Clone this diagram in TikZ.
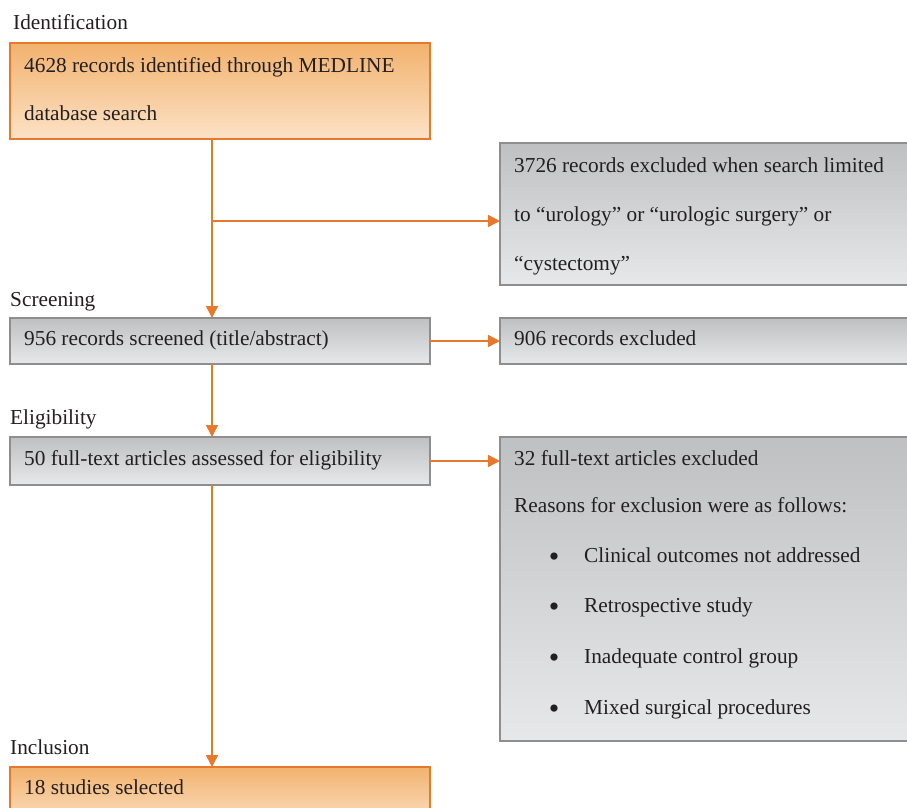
\documentclass[tikz,border=0pt]{standalone}
\usepackage{fontspec}
\setmainfont{Liberation Serif}
\usetikzlibrary{arrows.meta}
\definecolor{oborder}{HTML}{E8782A}
\definecolor{otop}{HTML}{F2B26E}
\definecolor{obot}{HTML}{FCE2C6}
\definecolor{gborder}{HTML}{8E8E8E}
\definecolor{gtop}{HTML}{BFC0C2}
\definecolor{gbot}{HTML}{E7E8EA}
\definecolor{txt}{HTML}{231F20}
\tikzset{
  box/.style={draw, line width=1.2pt, inner sep=0pt, outer sep=0pt, anchor=north west},
  obox/.style={box, draw=oborder, top color=otop, bottom color=obot},
  gbox/.style={box, draw=gborder, top color=gtop, bottom color=gbot},
  tx/.style={anchor=base west, inner sep=0pt, text=txt, font=\fontsize{21.3}{25}\selectfont},
  bul/.style={anchor=base, inner sep=0pt, text=txt, font=\fontsize{30}{30}\selectfont},
  arr/.style={draw=oborder, line width=1.4pt, -{Triangle[length=12pt,width=12pt]}},
  ln/.style={draw=oborder, line width=1.4pt}
}
\begin{document}
\begin{tikzpicture}[x=1pt,y=-1pt]
\useasboundingbox (0,0) rectangle (907,807);
% boxes
\node[obox, minimum width=420pt, minimum height=96pt] (b1) at (10,43) {};
\node[gbox, minimum width=420pt, minimum height=142pt] (b2) at (500,143) {};
\node[gbox, minimum width=420pt, minimum height=46pt] (b3) at (10,318) {};
\node[gbox, minimum width=420pt, minimum height=46pt] (b4) at (500,318) {};
\node[gbox, minimum width=420pt, minimum height=48pt] (b5) at (10,437) {};
\node[gbox, minimum width=420pt, minimum height=304pt] (b6) at (500,437) {};
\node[obox, minimum width=420pt, minimum height=60pt] (b7) at (10,767) {};
% stage labels
\node[tx] (l1) at (13,29) {Identification};
\node[tx] (l2) at (10,306) {Screening};
\node[tx] (l3) at (10,424) {Eligibility};
\node[tx] (l4) at (10,754) {Inclusion};
% texts
\node[tx] (t1a) at (24,72) {4628 records identified through MEDLINE};
\node[tx] (t1b) at (24,120) {database search};
\node[tx] (t2a) at (514,172) {3726 records excluded when search limited};
\node[tx] (t2b) at (514,221) {to “urology” or “urologic surgery” or};
\node[tx] (t2c) at (514,270) {“cystectomy”};
\node[tx] (t3) at (24,345) {956 records screened (title/abstract)};
\node[tx] (t4) at (514,345) {906 records excluded};
\node[tx] (t5) at (24,465) {50 full-text articles assessed for eligibility};
\node[tx] (t6a) at (514,465) {32 full-text articles excluded};
\node[tx] (t6b) at (514,512) {Reasons for exclusion were as follows:};
\node[bul] (u1) at (554,566) {•};
\node[tx] (r1) at (584,562) {Clinical outcomes not addressed};
\node[bul] (u2) at (554,616) {•};
\node[tx] (r2) at (584,612) {Retrospective study};
\node[bul] (u3) at (554,667) {•};
\node[tx] (r3) at (584,663) {Inadequate control group};
\node[bul] (u4) at (554,718) {•};
\node[tx] (r4) at (584,714) {Mixed surgical procedures};
\node[tx] (t7) at (24,794) {18 studies selected};
% connectors
\coordinate (j) at (212,221);
\draw[ln] (b1.south -| j) -- (j);
\draw[arr] (j) -- (j -| b2.west);
\draw[arr] (j) -- (j |- b3.north);
\draw[arr] (b3.east) -- (b4.west);
\draw[arr] (b3.south -| j) -- (b5.north -| j);
\draw[arr] (b5.east) -- (b5.east -| b6.west);
\draw[arr] (b5.south -| j) -- (b7.north -| j);
\end{tikzpicture}
\end{document}
